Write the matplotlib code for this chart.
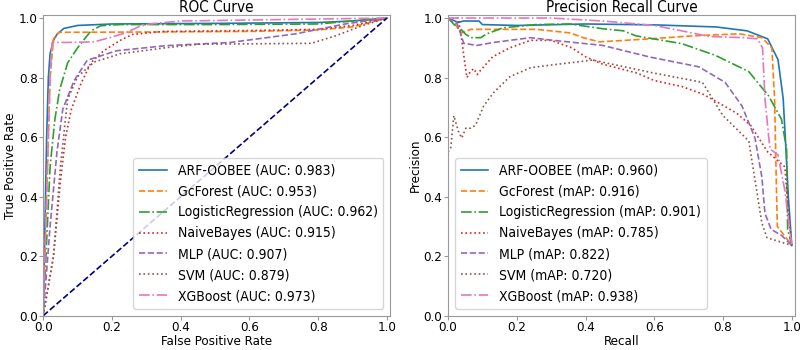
import matplotlib
matplotlib.use("Agg")
import matplotlib.pyplot as plt

# ---------------- ROC data ----------------
roc_names = ["ARF-OOBEE", "GcForest", "LogisticRegression", "NaiveBayes", "MLP", "SVM", "XGBoost"]
roc_auc = [0.983, 0.953, 0.962, 0.915, 0.907, 0.879, 0.973]

roc_arf_fpr = [0, 0.005, 0.01, 0.015, 0.02, 0.03, 0.04, 0.06, 0.1, 0.2, 0.5, 0.8, 0.9, 1.0]
roc_arf_tpr = [0, 0.30, 0.60, 0.80, 0.88, 0.925, 0.945, 0.965, 0.975, 0.98, 0.982, 0.985, 0.99, 1.0]

roc_gcf_fpr = [0, 0.01, 0.02, 0.03, 0.045, 0.3, 0.6, 0.8, 0.9, 0.95, 1.0]
roc_gcf_tpr = [0, 0.40, 0.80, 0.93, 0.952, 0.953, 0.955, 0.96, 0.97, 0.985, 1.0]

roc_lr_fpr = [0, 0.01, 0.02, 0.034, 0.048, 0.071, 0.10, 0.139, 0.167, 0.224, 0.5, 0.8, 0.9, 1.0]
roc_lr_tpr = [0, 0.25, 0.50, 0.66, 0.76, 0.849, 0.90, 0.957, 0.974, 0.978, 0.978, 0.98, 0.99, 1.0]

roc_nb_fpr = [0, 0.03, 0.05, 0.065, 0.082, 0.11, 0.139, 0.176, 0.224, 0.26, 0.35, 0.6, 0.8, 0.9, 1.0]
roc_nb_tpr = [0, 0.20, 0.45, 0.60, 0.694, 0.78, 0.85, 0.89, 0.925, 0.945, 0.955, 0.958, 0.962, 0.975, 1.0]

roc_mlp_fpr = [0, 0.02, 0.04, 0.057, 0.09, 0.128, 0.213, 0.355, 0.545, 0.735, 0.878, 1.0]
roc_mlp_tpr = [0, 0.30, 0.55, 0.694, 0.79, 0.858, 0.89, 0.907, 0.918, 0.947, 0.98, 1.0]

roc_svm_fpr = [0, 0.03, 0.05, 0.071, 0.10, 0.148, 0.224, 0.355, 0.45, 0.78, 0.85, 0.93, 1.0]
roc_svm_tpr = [0, 0.20, 0.50, 0.727, 0.803, 0.852, 0.88, 0.90, 0.912, 0.915, 0.94, 0.975, 1.0]

roc_xgb_fpr = [0, 0.01, 0.02, 0.026, 0.071, 0.148, 0.196, 0.24, 0.28, 0.31, 0.4, 0.7, 1.0]
roc_xgb_tpr = [0, 0.40, 0.80, 0.918, 0.918, 0.92, 0.935, 0.95, 0.972, 0.98, 0.99, 0.995, 1.0]

# ---------------- PR data ----------------
pr_map = [0.960, 0.916, 0.901, 0.785, 0.822, 0.720, 0.938]

pr_arf_rec = [0, 0.03, 0.045, 0.09, 0.10, 0.2, 0.4, 0.6, 0.78, 0.87, 0.93, 0.96, 0.975, 0.983, 0.99, 1.0]
pr_arf_pre = [1.0, 0.985, 0.99, 0.99, 0.978, 0.975, 0.98, 0.977, 0.97, 0.957, 0.93, 0.86, 0.73, 0.56, 0.40, 0.236]

pr_gcf_rec = [0, 0.02, 0.04, 0.066, 0.16, 0.257, 0.355, 0.393, 0.44, 0.587, 0.71, 0.847, 0.913, 0.942, 0.95, 0.955, 0.958, 1.0]
pr_gcf_pre = [1.0, 0.98, 0.95, 0.962, 0.962, 0.962, 0.95, 0.934, 0.92, 0.93, 0.94, 0.947, 0.934, 0.90, 0.73, 0.45, 0.30, 0.236]

pr_lr_rec = [0, 0.027, 0.037, 0.05, 0.066, 0.095, 0.113, 0.16, 0.257, 0.355, 0.45, 0.51, 0.547, 0.68, 0.777, 0.875, 0.933, 0.97, 0.985, 0.988, 1.0]
pr_lr_pre = [1.0, 0.967, 0.964, 0.947, 0.934, 0.934, 0.947, 0.967, 0.978, 0.98, 0.964, 0.957, 0.94, 0.914, 0.875, 0.82, 0.738, 0.66, 0.56, 0.29, 0.236]

pr_nb_rec = [0, 0.03, 0.04, 0.05, 0.055, 0.065, 0.075, 0.085, 0.095, 0.13, 0.18, 0.24, 0.30, 0.36, 0.40, 0.45, 0.55, 0.60, 0.68, 0.74, 0.78, 0.84, 0.88, 0.93, 0.96, 0.98, 0.99, 1.0]
pr_nb_pre = [1.0, 1.0, 0.925, 0.84, 0.80, 0.82, 0.83, 0.81, 0.825, 0.87, 0.90, 0.925, 0.925, 0.90, 0.87, 0.845, 0.815, 0.79, 0.77, 0.745, 0.72, 0.68, 0.64, 0.55, 0.52, 0.50, 0.35, 0.236]

pr_mlp_rec = [0, 0.027, 0.046, 0.084, 0.133, 0.24, 0.306, 0.40, 0.45, 0.587, 0.73, 0.806, 0.855, 0.893, 0.913, 0.922, 0.94, 0.97, 1.0]
pr_mlp_pre = [1.0, 0.98, 0.915, 0.908, 0.918, 0.934, 0.925, 0.914, 0.908, 0.869, 0.836, 0.784, 0.705, 0.597, 0.466, 0.344, 0.29, 0.27, 0.236]

pr_svm_rec = [0, 0.008, 0.017, 0.03, 0.04, 0.052, 0.066, 0.08, 0.104, 0.133, 0.18, 0.24, 0.306, 0.373, 0.42, 0.595, 0.74, 0.80, 0.875, 0.893, 0.913, 0.928, 1.0]
pr_svm_pre = [0.55, 0.564, 0.672, 0.62, 0.597, 0.63, 0.63, 0.64, 0.705, 0.75, 0.803, 0.833, 0.843, 0.852, 0.859, 0.816, 0.784, 0.672, 0.587, 0.456, 0.311, 0.262, 0.236]

pr_xgb_rec = [0, 0.3, 0.45, 0.6, 0.68, 0.76, 0.86, 0.90, 0.915, 0.922, 0.933, 0.937, 0.96, 0.98, 0.994, 1.0]
pr_xgb_pre = [1.0, 1.0, 0.99, 0.975, 0.957, 0.938, 0.934, 0.93, 0.90, 0.73, 0.60, 0.56, 0.54, 0.42, 0.29, 0.236]

colors = ["tab:blue", "tab:orange", "tab:green", "tab:red", "tab:purple", "tab:brown", "tab:pink"]
styles = ["-", "--", "-.", ":", "--", ":", "-."]

roc_x = [roc_arf_fpr, roc_gcf_fpr, roc_lr_fpr, roc_nb_fpr, roc_mlp_fpr, roc_svm_fpr, roc_xgb_fpr]
roc_y = [roc_arf_tpr, roc_gcf_tpr, roc_lr_tpr, roc_nb_tpr, roc_mlp_tpr, roc_svm_tpr, roc_xgb_tpr]
pr_x = [pr_arf_rec, pr_gcf_rec, pr_lr_rec, pr_nb_rec, pr_mlp_rec, pr_svm_rec, pr_xgb_rec]
pr_y = [pr_arf_pre, pr_gcf_pre, pr_lr_pre, pr_nb_pre, pr_mlp_pre, pr_svm_pre, pr_xgb_pre]

plt.rcParams['font.family'] = ['DejaVu Sans']
plt.rcParams['font.stretch'] = 'condensed'
fig = plt.figure(figsize=(8, 3.5), dpi=100)
ax1 = fig.add_axes([0.054, 0.098, 0.434, 0.859])
ax2 = fig.add_axes([0.56, 0.098, 0.434, 0.859])

lw = 1.2
for i, name in enumerate(roc_names):
    ax1.plot(roc_x[i], roc_y[i], color=colors[i], linestyle=styles[i], lw=lw,
             label=f"{name} (AUC: {roc_auc[i]:.3f})")
ax1.plot([0, 1], [0, 1], color="navy", linestyle="--", lw=lw)

for i, name in enumerate(roc_names):
    ax2.plot(pr_x[i], pr_y[i], color=colors[i], linestyle=styles[i], lw=lw,
             label=f"{name} (mAP: {pr_map[i]:.3f})")

for ax in (ax1, ax2):
    ax.set_xlim(0, 1.01)
    ax.set_ylim(0, 1.01)
    ax.set_xticks([0, 0.2, 0.4, 0.6, 0.8, 1.0])
    ax.set_yticks([0, 0.2, 0.4, 0.6, 0.8, 1.0])
    ax.tick_params(labelsize=9.5, color="#999999", length=3, pad=1)
    for s in ax.spines.values():
        s.set_color("#999999")

ax1.set_title("ROC Curve", fontsize=11, pad=2)
ax1.set_xlabel("False Positive Rate", fontsize=9.5, labelpad=0.5)
ax1.set_ylabel("True Positive Rate", fontsize=9.5, labelpad=1)
ax1.legend(loc="lower right", fontsize=10)

ax2.set_title("Precision Recall Curve", fontsize=11, pad=2)
ax2.set_xlabel("Recall", fontsize=9.5, labelpad=0.5)
ax2.set_ylabel("Precision", fontsize=9.5, labelpad=1)
ax2.legend(loc="lower left", fontsize=10)

fig.savefig("out.png", dpi=100)
